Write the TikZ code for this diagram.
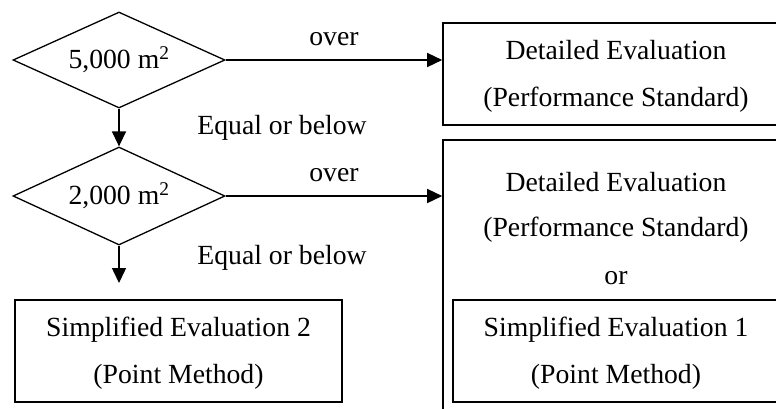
\documentclass[tikz,border=0pt]{standalone}
\usepackage{fontspec}
\setmainfont{Liberation Serif}
\usetikzlibrary{shapes.geometric,arrows.meta}
\newcommand\bigtext{\fontsize{27.7}{47}\selectfont}
\newcommand\lowstrut{\rule{0pt}{24pt}}
\begin{document}
\begin{tikzpicture}[x=1pt,y=-1pt,
  boxst/.style={draw,line width=1.6pt,inner sep=0pt,align=center,font=\bigtext},
  decision/.style={diamond,draw,line width=1.3pt,aspect=2.2,minimum width=212pt,minimum height=96pt,inner sep=0pt,font=\bigtext},
  arr/.style={-{Triangle[length=15pt,width=14pt]},line width=1.5pt},
  lbl/.style={font=\bigtext,inner sep=0pt}]
\clip (0,0) rectangle (776,408);
% decisions
\node[decision] (d1) at (119,60) {5,000 m\textsuperscript{2}};
\node[decision,minimum height=98pt] (d2) at (119,196) {2,000 m\textsuperscript{2}};
% boxes
\node[boxst,minimum width=346pt,minimum height=102pt] (det1) at (616,74) {\lowstrut Detailed Evaluation\\(Performance Standard)};
\node[boxst,minimum width=346pt,minimum height=280pt] (outer) at (616,280) {};
\node[lbl,anchor=base] (det2a) at (616,191) {Detailed Evaluation};
\node[lbl,anchor=base] (det2b) at (616,236) {(Performance Standard)};
\node[lbl,anchor=base] (ortxt) at (616,284) {or};
\node[boxst,minimum width=326pt,minimum height=102pt] (simp1) at (616,351) {\lowstrut Simplified Evaluation 1\\(Point Method)};
\node[boxst,minimum width=327pt,minimum height=102pt] (simp2) at (178.5,351) {\lowstrut Simplified Evaluation 2\\(Point Method)};
\coordinate (end2) at (119,283);
% connectors
\draw[arr] (d1.east) -- (d1.east -| det1.west);
\draw[arr] (d2.east) -- (d2.east -| outer.west);
\draw[arr] (d1.south) -- (d2.north);
\draw[arr] (d2.south) -- (end2);
% labels
\node[lbl] (over1) at (334,39) {over};
\node[lbl] (over2) at (334,175) {over};
\node[lbl] (eq1) at (282,128) {Equal or below};
\node[lbl] (eq2) at (282,258) {Equal or below};
\end{tikzpicture}
\end{document}
